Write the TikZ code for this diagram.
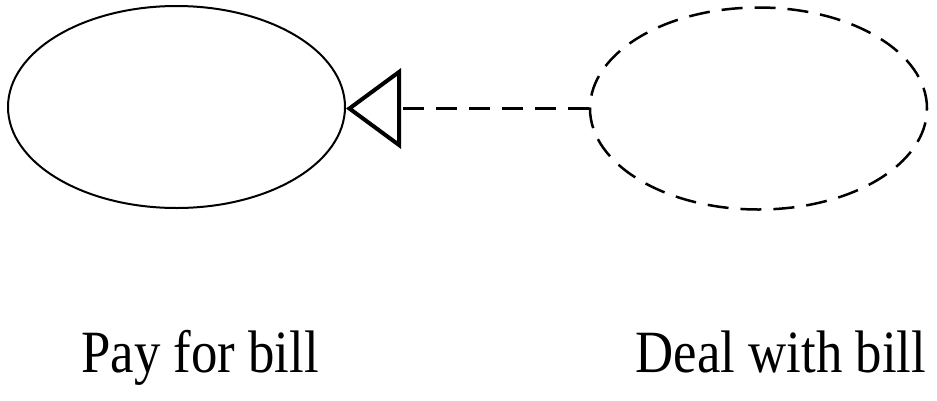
\documentclass[tikz,border=0pt]{standalone}
\usepackage{fontspec}
\setmainfont{Liberation Serif}
\usetikzlibrary{shapes.geometric,arrows.meta}
\tikzset{
  usecase/.style={ellipse, draw, line width=2pt, minimum width=337pt, minimum height=202pt, inner sep=0pt},
  lbl/.style={anchor=base, inner sep=0pt, font=\fontsize{60}{61}\selectfont},
  dashpat/.style={line width=2.5pt, dash pattern=on 21pt off 12pt}
}
\begin{document}
\begin{tikzpicture}[x=1pt,y=-1pt]
\useasboundingbox (0,0) rectangle (937,400);
\node[usecase] (a) at (176.5,107) {};
\node[usecase, dashpat] (b) at (758.5,108.5) {};
\draw[dashpat, -{Triangle[open, length=55pt, width=80pt, line width=4pt]}] (b.west) -- (b.west -| a.east);
\node[lbl] (t1) at (200,372) {\scalebox{0.88}[1]{Pay for bill}};
\node[lbl] (t2) at (781,372) {\scalebox{0.88}[1]{Deal with bill}};
\end{tikzpicture}
\end{document}
